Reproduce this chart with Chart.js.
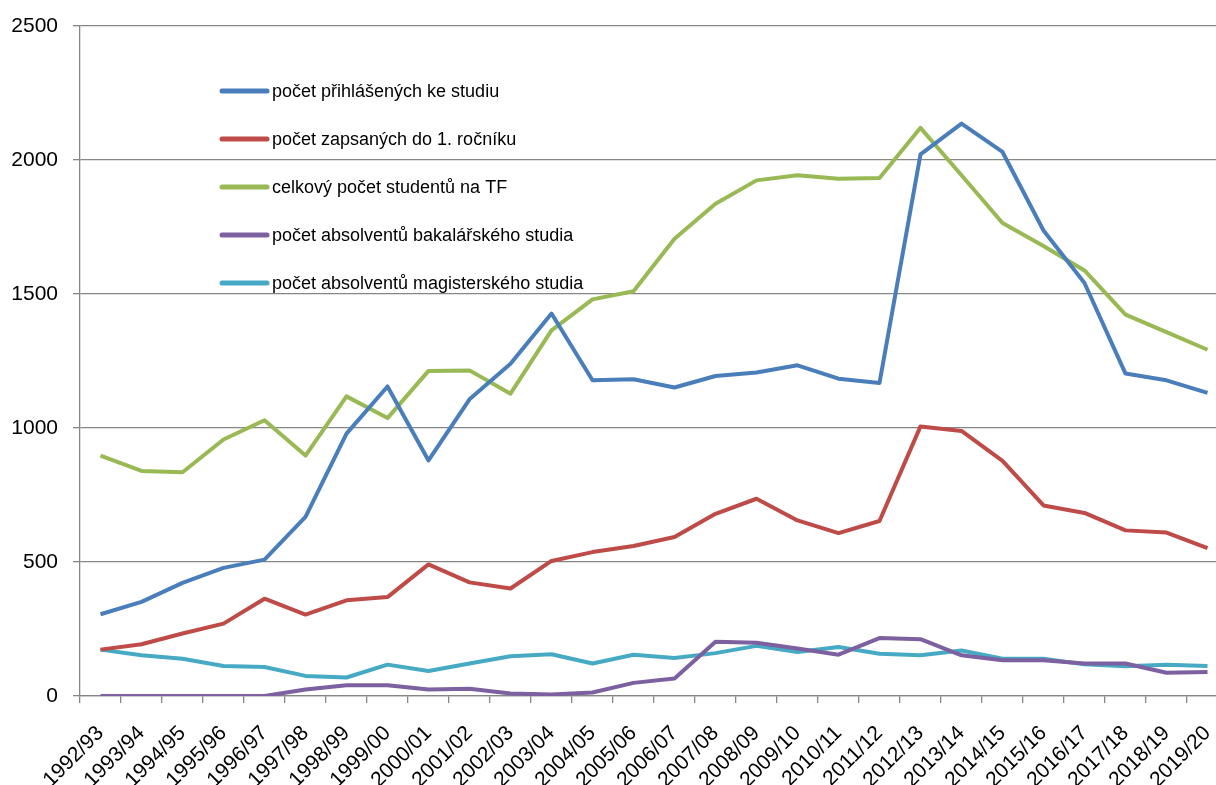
<!DOCTYPE html>
<html>
<head>
<meta charset="utf-8">
<script src="https://cdn.jsdelivr.net/npm/chart.js@4/dist/chart.umd.min.js"></script>
<style>
html,body{margin:0;padding:0;background:#fff;overflow:hidden;width:1216px;height:785px;}
#wrap{position:absolute;left:0;top:0;width:1232px;height:785px;}
</style>
</head>
<body>
<div id="wrap"><canvas id="c" width="1232" height="785"></canvas></div>
<script>
const categories = ["1992/93","1993/94","1994/95","1995/96","1996/97","1997/98","1998/99","1999/00","2000/01","2001/02","2002/03","2003/04","2004/05","2005/06","2006/07","2007/08","2008/09","2009/10","2010/11","2011/12","2012/13","2013/14","2014/15","2015/16","2016/17","2017/18","2018/19","2019/20"];
const prihlaseni = [305,351,422,478,509,668,979,1155,879,1107,1240,1427,1178,1182,1151,1194,1207,1234,1184,1168,2021,2136,2030,1737,1541,1203,1178,1131];
const zapsani = [173,193,233,270,363,304,357,369,491,424,401,504,537,560,593,680,736,655,608,653,1006,989,877,711,683,618,610,552];
const celkem = [897,840,835,957,1029,897,1118,1037,1213,1215,1128,1364,1480,1510,1706,1837,1924,1943,1930,1933,2120,1943,1765,1679,1588,1423,1358,1292];
const bakalari = [0,0,0,0,0,24,40,40,24,27,9,6,13,49,65,202,199,177,154,216,212,152,133,133,121,121,87,90];
const magistri = [173,152,139,112,108,75,69,117,93,121,148,156,121,154,142,160,187,164,183,158,152,170,139,139,118,111,117,112];
const seriesLabels = ["počet přihlášených ke studiu","počet zapsaných do 1. ročníku","celkový počet studentů na TF","počet absolventů bakalářského studia","počet absolventů magisterského studia"];
const yTicks = [0,500,1000,1500,2000,2500];

const colors = ["#4A7EBB","#BE4B48","#98B954","#7D60A0","#46AAC5"];
const seriesData = [prihlaseni, zapsani, celkem, bakalari, magistri];
const FONT = "'Liberation Sans', Arial, sans-serif";

const legendPlugin = {
  id: 'inlineLegend',
  afterDraw(chart) {
    const ctx = chart.ctx;
    ctx.save();
    chart.data.datasets.forEach((ds, i) => {
      const y = 91 + i * 48;
      ctx.strokeStyle = ds.borderColor;
      ctx.lineWidth = 5;
      ctx.lineCap = 'round';
      ctx.beginPath();
      ctx.moveTo(222, y);
      ctx.lineTo(267, y);
      ctx.stroke();
      ctx.fillStyle = '#000';
      ctx.font = "18px " + FONT;
      ctx.textBaseline = 'middle';
      ctx.textAlign = 'left';
      ctx.fillText(ds.label, 272, y + 1);
    });
    ctx.restore();
  }
};

new Chart(document.getElementById('c'), {
  type: 'line',
  data: {
    labels: categories,
    datasets: seriesData.map((d, i) => ({
      label: seriesLabels[i],
      data: d,
      borderColor: colors[i],
      backgroundColor: colors[i],
      borderWidth: 4,
      pointRadius: 0,
      pointHoverRadius: 0,
      tension: 0,
      borderJoinStyle: 'round',
      fill: false
    }))
  },
  options: {
    responsive: false,
    animation: false,
    devicePixelRatio: 1,
    layout: { padding: { top: 26, right: 4, left: 0, bottom: 0 } },
    plugins: { legend: { display: false }, tooltip: { enabled: false } },
    scales: {
      x: {
        type: 'category',
        offset: true,
        grid: { display: true, drawOnChartArea: false, drawTicks: true, offset: true, tickLength: 7, color: '#868686', lineWidth: 1.3 },
        border: { display: true, color: '#868686', width: 1.3 },
        ticks: { maxRotation: 45, minRotation: 45, autoSkip: false, color: '#000', font: { family: FONT, size: 21 }, padding: 18 },
        afterFit(scale) { scale.height = 89; scale.paddingLeft = 0; scale.paddingRight = 0; }
      },
      y: {
        min: 0, max: 2500,
        afterBuildTicks(scale) { scale.ticks = yTicks.map(v => ({ value: v })); },
        grid: { color: '#868686', lineWidth: 1.3, tickLength: 7, drawTicks: true },
        border: { display: true, color: '#868686', width: 1.3 },
        ticks: { color: '#000', font: { family: FONT, size: 21 }, padding: 15, callback: v => String(v) },
        afterFit(scale) { scale.width = 80; scale.paddingTop = 0; scale.paddingBottom = 0; }
      }
    }
  },
  plugins: [legendPlugin]
});
</script>
</body>
</html>
